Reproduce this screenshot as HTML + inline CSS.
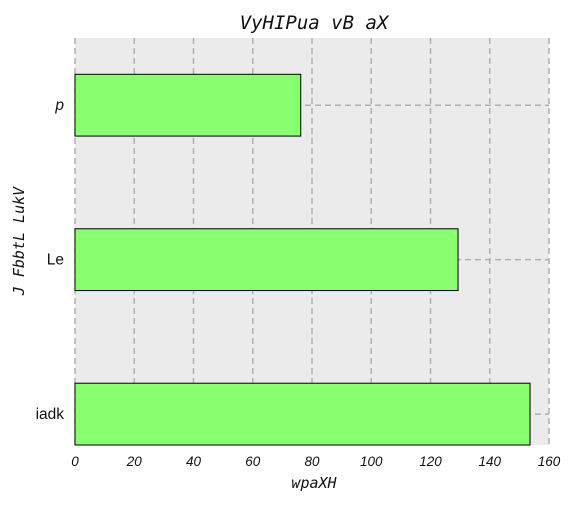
<!DOCTYPE html>
<html><head><meta charset="utf-8"><style>
body{margin:0;background:#fff;}
svg text{font-family:"Liberation Sans","DejaVu Sans",sans-serif;}
</style></head><body>
<svg id="chart" width="576" height="504" xmlns="http://www.w3.org/2000/svg">
<rect x="75" y="38" width="474" height="407" fill="#ebebeb"/>
<g id="grid"></g>
<g id="bars"></g>
<g id="xticks"></g>
<g id="yticks"></g>
<text x="314" y="29" text-anchor="middle" font-size="19" font-style="italic" style="font-family:'DejaVu Sans Mono',monospace" fill="#111">VyHIPua vB aX</text>
<text x="314" y="488" text-anchor="middle" font-size="15" font-style="italic" style="font-family:'DejaVu Sans Mono',monospace" fill="#111">wpaXH</text>
<text x="24" y="241" text-anchor="middle" font-size="15" font-style="italic" style="font-family:'DejaVu Sans Mono',monospace" fill="#111" transform="rotate(-90 24 241)">J FbbtL LukV</text>
</svg>
<script>
const categories = ["iadk","Le","p"];
const values = [153.6,129.3,76.2];
const xTicks = [0,20,40,60,80,100,120,140,160];
const NS="http://www.w3.org/2000/svg";
const x0=75,x1=549,yTop=38,yBot=445;
const xs=v=>x0+(v-0)/(160-0)*(x1-x0);
const dMin=-0.2,dMax=2.435;
const ys=i=>yBot-(i-dMin)/(dMax-dMin)*(yBot-yTop);
const bw=0.4*(yBot-yTop)/(dMax-dMin);
function mk(tag,attrs,parent){const e=document.createElementNS(NS,tag);for(const k in attrs)e.setAttribute(k,attrs[k]);document.getElementById(parent).appendChild(e);return e;}
xTicks.forEach(t=>{
  const l=mk('line',{x1:xs(t),x2:xs(t),y1:yTop,y2:yBot,stroke:'#b0b0b0','stroke-width':1.5,'stroke-dasharray':'6,4'},'grid');
  
  
  const tx=mk('text',{x:xs(t),y:466,'text-anchor':'middle','font-size':13.5,'font-style':'italic',fill:'#111'},'xticks');
  tx.textContent=t;
  
  
});
categories.forEach((c,i)=>{
  const l=mk('line',{x1:x0,x2:x1,y1:ys(i),y2:ys(i),stroke:'#b0b0b0','stroke-width':1.5,'stroke-dasharray':'6,4'},'grid');
  
  
  const r=mk('rect',{x:xs(0),y:ys(i)-bw/2,width:xs(values[i])-xs(0),height:bw,fill:'#88ff6e',stroke:'#000','stroke-width':1},'bars');
  
  
  const tx=mk('text',{x:64,y:ys(i)+5,'text-anchor':'end','font-size':15.5,fill:'#111'},'yticks');
  if(c==='p')tx.setAttribute('font-style','italic');
  tx.textContent=c;
  
  
});
</script>
</body></html>
